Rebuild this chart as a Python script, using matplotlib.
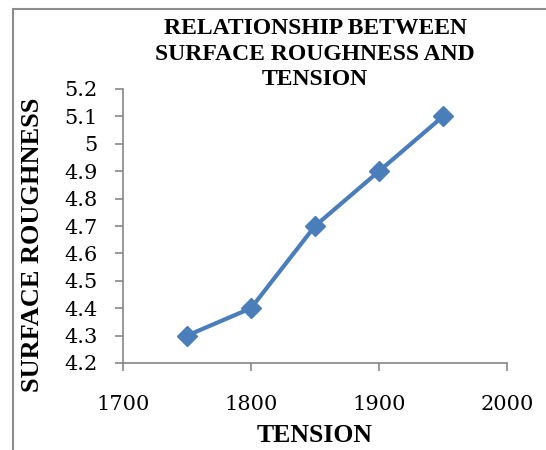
import matplotlib.pyplot as plt
from matplotlib.patches import Rectangle
from matplotlib.ticker import FuncFormatter

# datos
tension = [1750, 1800, 1850, 1900, 1950]
rugosidad = [4.3, 4.4, 4.7, 4.9, 5.1]
x_ticks = [1700, 1800, 1900, 2000]
y_ticks = [4.2, 4.3, 4.4, 4.5, 4.6, 4.7, 4.8, 4.9, 5.0, 5.1, 5.2]

fig = plt.figure(figsize=(5.46, 4.5), dpi=100)
ax = fig.add_axes([123 / 546, 1 - 363 / 450, 384 / 546, 274 / 450])

# marco del grafico
fig.patches.append(Rectangle((13 / 546, -0.1), 1.2, 1 - 9 / 450 + 0.1,
                             transform=fig.transFigure, fill=False,
                             edgecolor='#8c8c8c', linewidth=1.5))

ax.plot(tension, rugosidad, color='#4a7ebb', linewidth=3, marker='D',
        markersize=10, markerfacecolor='#4a7ebb', markeredgecolor='#4a7ebb')

ax.set_xlim(1700, 2000)
ax.set_ylim(4.2, 5.2)
ax.set_xticks(x_ticks)
ax.set_yticks(y_ticks)
ax.yaxis.set_major_formatter(FuncFormatter(lambda v, p: f"{v:g}"))

for s in ['top', 'right']:
    ax.spines[s].set_visible(False)
for s in ['left', 'bottom']:
    ax.spines[s].set_color('#868686')
    ax.spines[s].set_linewidth(1.2)

ax.tick_params(axis='both', direction='out', length=6, width=1.2,
               color='#868686', labelsize=15)
ax.tick_params(axis='y', pad=12)
ax.tick_params(axis='x', pad=17)
for lab in ax.get_xticklabels() + ax.get_yticklabels():
    lab.set_family('DejaVu Serif')

fig.text(0.577, 1 - 54 / 450, 'RELATIONSHIP BETWEEN\nSURFACE ROUGHNESS AND\nTENSION',
         ha='center', va='center', family='Liberation Serif', fontweight='bold',
         fontsize=17, linespacing=1.3)
fig.text(315 / 546, 1 - 436 / 450, 'TENSION', ha='center', va='center',
         family='Liberation Serif', fontweight='bold', fontsize=18.5)
fig.text(33 / 546, 1 - 245 / 450, 'SURFACE ROUGHNESS', ha='center', va='center',
         rotation=90, family='Liberation Serif', fontweight='bold', fontsize=19)

plt.savefig('out.png', dpi=100)
plt.close()
